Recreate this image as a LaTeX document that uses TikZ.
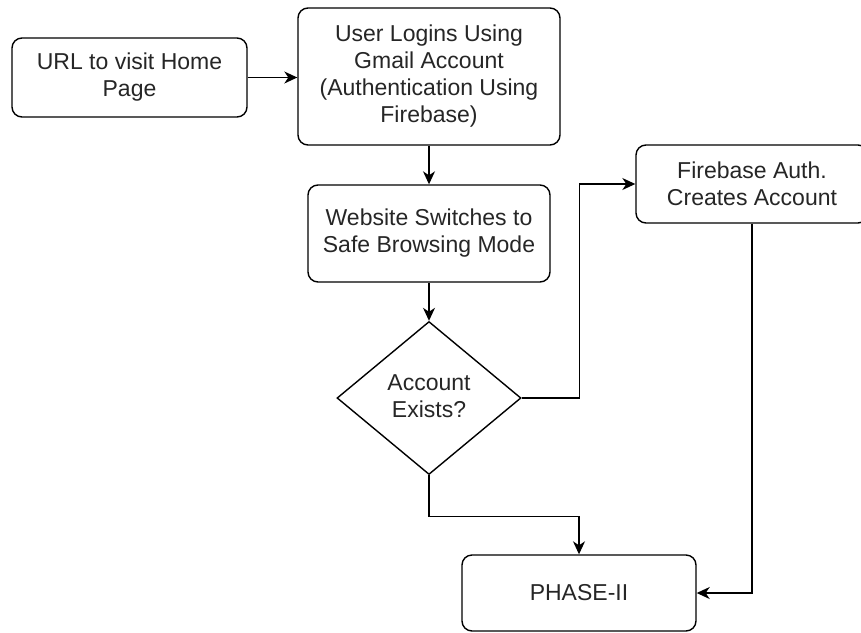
\documentclass[tikz,border=0pt]{standalone}
\usepackage{fontspec}
\setmainfont{Liberation Sans}
\usetikzlibrary{shapes.geometric,arrows.meta}
\begin{document}
\begin{tikzpicture}[x=1pt,y=-1pt,
  every node/.style={font=\fontsize{23}{27}\selectfont, align=center, text=black!85},
  box/.style={draw, line width=1.4pt, rounded corners=10pt, inner sep=0pt},
  dia/.style={draw, diamond, line width=1.4pt, inner sep=0pt},
  conn/.style={draw, line width=1.4pt, -{Stealth[length=13pt,width=12pt,inset=4pt]}}
]
\clip (0,0) rectangle (861,632);
\fill[white] (0,0) rectangle (861,632);
\node[box, minimum width=235pt, minimum height=79pt] (n1) at (129.5,77.5) {URL to visit Home\\Page};
\node[box, minimum width=262pt, minimum height=137pt] (n2) at (429,76.5) {User Logins Using\\Gmail Account\\(Authentication Using\\Firebase)};
\node[box, minimum width=242pt, minimum height=97pt] (n3) at (429,233.5) {Website Switches to\\Safe Browsing Mode};
\node[dia, minimum width=184pt, minimum height=153pt] (n4) at (429,398) {};
\node at (429,396) {Account\\Exists?};
\node[box, minimum width=232pt, minimum height=78pt] (n5) at (752,184) {Firebase Auth.\\Creates Account};
\node[box, minimum width=234pt, minimum height=76pt] (n6) at (579,593) {PHASE-II};
\draw[conn] (n1.east) -- (n1.east -| n2.west);
\draw[conn] (n2.south) -- (n3.north);
\draw[conn] (n3.south) -- (n4.north);
\draw[conn] (n4.east) -- ++(58,0) |- (n5.west);
\draw[conn] (n4.south) -- ++(0,41) -| (n6.north);
\draw[conn] (n5.south) |- (n6.east);
\end{tikzpicture}
\end{document}
